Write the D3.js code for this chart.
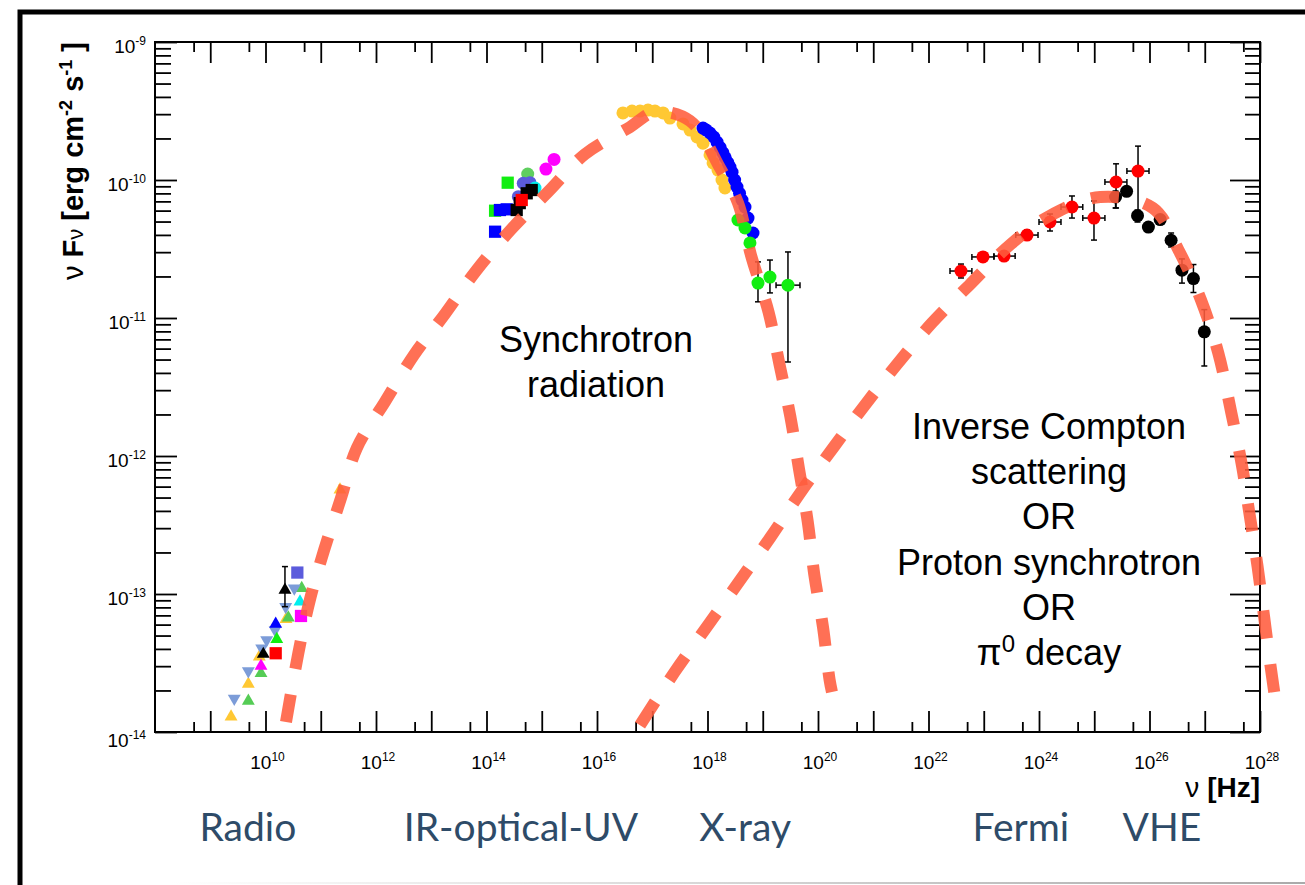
<!DOCTYPE html>
<html>
<head>
<meta charset="utf-8">
<script src="https://cdn.jsdelivr.net/npm/d3@7"></script>
<style>
  body{margin:0;background:#fff;}
  svg{display:block;}
</style>
</head>
<body>
<div id="chart-area"></div>
<script>
// ---------- DATA (nu in Hz, nuFnu in erg cm^-2 s^-1) ----------
let xLabelExps=[10,12,14,16,18,20,22,24,26,28];
let yLabelExps=[-14,-13,-12,-11,-10,-9];

let synchrotronModel=[[2.35e10,1.18e-14],[3.93e10,3.73e-14],[6.38e10,9.12e-14],[1.15e11,2.08e-13],
  [2.33e11,4.97e-13],[4.48e11,1.14e-12],[1.46e12,2.48e-12],[4.88e12,5.40e-12],[1.77e13,1.07e-11],
  [6.65e13,2.23e-11],[2.86e14,4.43e-11],[1.32e15,8.26e-11],[6.07e15,1.54e-10],[3.95e16,2.42e-10],
  [1.12e17,3.11e-10],[4.82e17,2.68e-10],[1.71e18,1.21e-10],[3.55e18,6.85e-11],[6.12e18,2.86e-11],
  [1.27e19,1.11e-11],[2.0e19,4.65e-12],[3.16e19,1.93e-12],[4.53e19,8.05e-13],[6.53e19,3.33e-13],
  [8.57e19,1.38e-13],[1.23e20,5.77e-14],[1.62e20,2.39e-14],[1.79e20,1.95e-14]];

let comptonModel=[[6.0e16,1.12e-14],[2.54e17,2.72e-14],[1.09e18,6.17e-14],[1.39e19,2.59e-13],
  [4.92e19,5.50e-13],[1.95e20,1.17e-12],[6.95e20,2.32e-12],[2.72e21,4.64e-12],[1.16e22,9.23e-12],
  [5.47e22,1.73e-11],[3.11e23,3.44e-11],[1.58e24,5.51e-11],[1.29e25,7.53e-11],[1.15e26,6.27e-11],
  [3.42e26,3.06e-11],[8.55e26,1.35e-11],[1.76e27,5.57e-12],[3.03e27,2.05e-12],[4.72e27,8.51e-13],
  [6.32e27,4.02e-13],[9.06e27,1.57e-13],[1.18e28,6.95e-14],[1.57e28,2.91e-14],[2.08e28,1.33e-14]];

// radio
let radioGoldUp=[[2.38e9,1.29e-14],[4.89e9,2.23e-14],[7.72e9,3.51e-14],[2.35e10,6.56e-14],[2.23e11,5.7e-13]];
let radioSteelDown=[[2.72e9,1.75e-14],[4.89e9,2.77e-14],[8.53e9,4.04e-14],[1.05e10,4.64e-14],
  [1.49e10,5.48e-14],[2.32e10,8.09e-14],[3.32e10,1.10e-13]];
let radioGreenUp=[[4.89e9,1.68e-14],[8.29e9,2.66e-14],[2.59e10,6.73e-14],[4.52e10,1.10e-13]];
let radioLimeUp=[[1.60e10,4.70e-14]];
let radioMagentaUp=[[8.29e9,3.01e-14]];
let radioBlackUp=[[9.12e9,3.67e-14],[2.25e10,1.07e-13]];
let radioBlackErr=[[2.25e10,8.09e-14,1.58e-13]];
let radioBlueUp=[[1.53e10,6.07e-14]];
let radioCyanUp=[[4.21e10,8.79e-14]];
let radioRedSq=[[1.53e10,3.72e-14]];
let radioSlateSq=[[3.77e10,1.43e-13]];
let radioMagentaSq=[[4.39e10,6.93e-14]];

// IR-optical-UV
let irGreenSq=[[2.42e14,9.56e-11],[1.43e14,5.99e-11]];
let irBlueSq=[[1.43e14,4.22e-11],[1.75e14,6.06e-11],[2.32e14,6.13e-11]];
let irGreenDot=[[5.57e14,1.105e-10]];
let irSlateDot=[[3.77e14,7.57e-11],[4.63e14,9.47e-11],[6.12e14,9.56e-11]];
let irCyanDot=[[7.55e14,8.75e-11]];
let irBlackSq=[[3.52e14,6.06e-11],[4.0e14,6.8e-11],[5.34e14,8.01e-11],[6.58e14,8.46e-11]];
let irRedSq=[[4.34e14,7.16e-11]];
let irMagentaDot=[[1.19e15,1.20e-10],[1.67e15,1.41e-10]];

// X-ray
let xrayGold=[[2.95e16,3.06e-10],[4.30e16,3.16e-10],[6.0e16,3.16e-10],[8.37e16,3.21e-10],[1.12e17,3.16e-10],
  [1.57e17,3.06e-10],[2.09e17,2.81e-10],[3.60e17,2.55e-10],[4.82e17,2.30e-10],[6.45e17,2.05e-10],
  [8.29e17,1.85e-10],[1.11e18,1.52e-10],[1.26e18,1.33e-10],[1.55e18,1.18e-10],[1.83e18,1.0e-10],[2.07e18,8.75e-11]];
let xrayBlue=[[8.29e17,2.38e-10],[9.5e17,2.3e-10],[1.11e18,2.19e-10],[1.3e18,2.05e-10],[1.49e18,1.88e-10],
  [1.7e18,1.72e-10],[1.91e18,1.57e-10],[2.1e18,1.45e-10],[2.35e18,1.33e-10],[2.55e18,1.24e-10],
  [2.78e18,1.14e-10],[3.1e18,1.0e-10],[3.42e18,8.90e-11],[3.8e18,8.0e-11],[4.21e18,7.16e-11],
  [4.77e18,6.37e-11],[5.41e18,5.30e-11],[6.66e18,4.13e-11]];
let xrayGreen=[[3.56e18,5.13e-11],[4.77e18,4.49e-11],[5.87e18,3.50e-11]];
// nu, F, nuLo, nuHi, FLo, FHi
let xrayGreenErr=[[8.2e18,1.79e-11,7.4e18,9.1e18,1.31e-11,2.55e-11],
  [1.35e19,1.98e-11,1.2e19,1.5e19,1.52e-11,2.63e-11],
  [2.86e19,1.73e-11,1.74e19,4.72e19,4.80e-12,3.01e-11]];

// Fermi: nu, F, nuLo, nuHi, FLo, FHi
let fermiPoints=[[3.87e22,2.19e-11,2.45e22,6.1e22,1.95e-11,2.46e-11],
  [9.69e22,2.77e-11,6.1e22,1.53e23,2.59e-11,2.96e-11],
  [2.33e23,2.81e-11,1.53e23,3.7e23,2.63e-11,3.01e-11],
  [6.06e23,3.99e-11,3.8e23,9.6e23,3.67e-11,4.34e-11],
  [1.58e24,4.96e-11,1.0e24,2.5e24,4.27e-11,5.67e-11],
  [3.95e24,6.37e-11,2.5e24,6.2e24,5.30e-11,7.66e-11],
  [9.89e24,5.30e-11,6.2e24,1.56e25,3.67e-11,7.05e-11],
  [2.48e25,9.67e-11,1.56e25,3.9e25,6.27e-11,1.31e-10],
  [6.2e25,1.16e-10,3.9e25,9.8e25,5.39e-11,1.76e-10]];

// VHE: nu, F, FLo, FHi
let vhePoints=[[2.43e25,7.53e-11,6.27e-11,8.32e-11],[3.85e25,8.28e-11,null,null],
  [6.07e25,5.51e-11,4.96e-11,6.06e-11],[9.55e25,4.56e-11,null,null],[1.56e26,5.17e-11,null,null],
  [2.46e26,3.66e-11,3.27e-11,4.13e-11],[3.87e26,2.22e-11,1.79e-11,2.68e-11],
  [6.24e26,1.93e-11,1.53e-11,2.44e-11],[9.82e26,7.94e-12,4.49e-12,1.15e-11]];

let bandLabels=["Radio","IR-optical-UV","X-ray","Fermi","VHE"];
let bandCentersHz=[4.8e9,4.2e14,4.8e18,4.7e23,1.68e26];
let comptonText=["Inverse Compton","scattering","OR","Proton synchrotron","OR"];

// ---------- SETUP ----------
let width=1305, height=885;
let plot={left:155,right:1260,top:42,bottom:732};
let FONT="'Liberation Sans', Arial, Helvetica, sans-serif";

let svg=d3.select("#chart-area").append("svg")
  .attr("width",width).attr("height",height)
  .style("font-family",FONT);

svg.append("rect").attr("width",width).attr("height",height).attr("fill","#fff");

//---------SCALES--------------
let x=d3.scaleLog().domain([1e8,1e28]).range([plot.left,plot.right]);
let y=d3.scaleLog().domain([1e-14,1e-9]).range([plot.bottom,plot.top]);

let majorX=d3.range(9,29).map(e=>Math.pow(10,e));
let minorX=d3.range(8,28).map(e=>5*Math.pow(10,e));
let majorY=d3.range(-14,-8).map(e=>Math.pow(10,e));
let minorY=[];
d3.range(-14,-9).forEach(e=>{ for(let k=2;k<=9;k++) minorY.push(k*Math.pow(10,e)); });

//---------OUTER FRAME---------
let grad=svg.append("defs").append("linearGradient").attr("id","fade");
grad.append("stop").attr("offset","0%").attr("stop-color","#fff");
grad.append("stop").attr("offset","100%").attr("stop-color","#aaa");
svg.append("rect").attr("x",170).attr("y",882).attr("width",1135).attr("height",2).attr("fill","url(#fade)");
svg.append("path").attr("d","M20,885 L20,12 L1305,12")
  .attr("fill","none").attr("stroke","#000").attr("stroke-width",5);

//-------AXES------------------
function tickGroup(axis,tr){
  let gr=svg.append("g").attr("transform",tr).call(axis);
  gr.select(".domain").remove();
  gr.selectAll("line").attr("stroke","#000").attr("stroke-width",1.8);
  gr.selectAll("text").remove();
  return gr;
}
let bY="translate(0,"+plot.bottom+")", tY="translate(0,"+plot.top+")";
let lX="translate("+plot.left+",0)", rX="translate("+plot.right+",0)";
tickGroup(d3.axisBottom(x).tickValues(majorX).tickSize(-21).tickSizeOuter(0),bY);
tickGroup(d3.axisBottom(x).tickValues(minorX).tickSize(-10).tickSizeOuter(0),bY);
tickGroup(d3.axisTop(x).tickValues(majorX).tickSize(-21).tickSizeOuter(0),tY);
tickGroup(d3.axisTop(x).tickValues(minorX).tickSize(-10).tickSizeOuter(0),tY);
tickGroup(d3.axisLeft(y).tickValues(majorY).tickSize(-22).tickSizeOuter(0),lX);
tickGroup(d3.axisLeft(y).tickValues(minorY).tickSize(-16).tickSizeOuter(0),lX);
tickGroup(d3.axisRight(y).tickValues(majorY).tickSize(-30).tickSizeOuter(0),rX);
tickGroup(d3.axisRight(y).tickValues(minorY).tickSize(-15).tickSizeOuter(0),rX);

svg.append("rect")
  .attr("x",plot.left).attr("y",plot.top)
  .attr("width",plot.right-plot.left).attr("height",plot.bottom-plot.top)
  .attr("fill","none").attr("stroke","#000").attr("stroke-width",2);

function powerLabel(t,exp){
  t.append("tspan").text("10");
  t.append("tspan").attr("dy",-8).attr("font-size",12).text(exp);
}
xLabelExps.forEach(function(e){
  let t=svg.append("text")
    .attr("x",x(Math.pow(10,e))+2).attr("y",769)
    .attr("text-anchor","middle").attr("font-size",19);
  powerLabel(t,e);
});
yLabelExps.forEach(function(e){
  let off=(e===-14)?15:11;
  let t=svg.append("text")
    .attr("x",plot.left-9).attr("y",y(Math.pow(10,e))+off)
    .attr("text-anchor","end").attr("font-size",19);
  powerLabel(t,e);
});

//------LABELS----------------
let yTitle=svg.append("text")
  .attr("transform","translate(83,"+plot.top+") rotate(-90)")
  .attr("text-anchor","end").attr("font-size",29).attr("font-weight","bold");
yTitle.append("tspan").attr("font-weight","normal").text("ν ");
yTitle.append("tspan").text("F");
yTitle.append("tspan").attr("font-weight","normal").attr("font-size",22).text("ν");
yTitle.append("tspan").text(" [erg cm");
yTitle.append("tspan").attr("font-size",18).attr("dy",-11).text("-2");
yTitle.append("tspan").attr("dy",11).text(" s");
yTitle.append("tspan").attr("font-size",18).attr("dy",-11).text("-1");
yTitle.append("tspan").attr("dy",11).text(" ]");

let xTitle=svg.append("text")
  .attr("x",plot.right).attr("y",797)
  .attr("text-anchor","end").attr("font-size",28).attr("font-weight","bold");
xTitle.append("tspan").attr("font-weight","normal").text("ν ");
xTitle.append("tspan").text("[Hz]");

//--------POINTS----------------
let triUp=d3.symbol().type(d3.symbolTriangle).size(72)();
let square=d3.symbol().type(d3.symbolSquare).size(150)();

function markers(data,shape,color){
  let sel=svg.append("g").selectAll("path").data(data).enter();
  if(shape==="circle"){
    sel.append("circle")
      .attr("cx",d=>x(d[0])).attr("cy",d=>y(d[1])).attr("r",6.5)
      .attr("fill",color);
  } else {
    sel.append("path")
      .attr("d",shape==="square"?square:triUp)
      .attr("transform",d=>"translate("+x(d[0])+","+y(d[1])+")"+(shape==="down"?" rotate(180)":""))
      .attr("fill",color);
  }
}

function errorBars(data,get){
  let g=svg.append("g").attr("stroke","#000").attr("stroke-width",1.5);
  data.forEach(function(d){
    let e=get(d), cx=x(e.nu), cy=y(e.f);
    if(e.fLo!=null){
      g.append("line").attr("x1",cx).attr("x2",cx).attr("y1",y(e.fLo)).attr("y2",y(e.fHi));
      [e.fLo,e.fHi].forEach(v=>g.append("line").attr("x1",cx-3).attr("x2",cx+3).attr("y1",y(v)).attr("y2",y(v)));
    }
    if(e.nuLo!=null){
      g.append("line").attr("x1",x(e.nuLo)).attr("x2",x(e.nuHi)).attr("y1",cy).attr("y2",cy);
      [e.nuLo,e.nuHi].forEach(v=>g.append("line").attr("x1",x(v)).attr("x2",x(v)).attr("y1",cy-3).attr("y2",cy+3));
    }
  });
}

// radio
markers(radioGoldUp,"up","#ffc833");
markers(radioGreenUp,"up","#55cc55");
markers(radioSteelDown,"down","#7c9cd8");
markers(radioLimeUp,"up","#11ee11");
markers(radioMagentaUp,"up","#ff00ff");
errorBars(radioBlackErr,d=>({nu:d[0],f:d[0],fLo:d[1],fHi:d[2]}));
markers(radioBlackUp,"up","#000");
markers(radioBlueUp,"up","#0000ff");
markers(radioCyanUp,"up","#00eeee");
markers(radioRedSq,"square","#ff0000");
markers(radioSlateSq,"square","#5b5bdc");
markers(radioMagentaSq,"square","#ff00ff");

// IR-optical-UV
markers(irGreenSq,"square","#11ee11");
markers(irBlueSq,"square","#0000ff");
markers(irGreenDot,"circle","#5fcf5f");
markers(irSlateDot,"circle","#5b5bdc");
markers(irCyanDot,"circle","#00eeee");
markers(irBlackSq,"square","#000");
markers(irRedSq,"square","#ff0000");
markers(irMagentaDot,"circle","#ff00ff");

// X-ray
markers(xrayGold,"circle","#ffc833");
markers(xrayBlue,"circle","#0000ff");
markers(xrayGreen,"circle","#11ee11");
errorBars(xrayGreenErr,d=>({nu:d[0],f:d[1],nuLo:d[2],nuHi:d[3],fLo:d[4],fHi:d[5]}));
markers(xrayGreenErr,"circle","#11ee11");

// gamma rays
errorBars(fermiPoints,d=>({nu:d[0],f:d[1],nuLo:d[2],nuHi:d[3],fLo:d[4],fHi:d[5]}));
markers(fermiPoints,"circle","#ff0000");
errorBars(vhePoints,d=>({nu:d[0],f:d[1],fLo:d[2],fHi:d[3]}));
markers(vhePoints,"circle","#000");

//--------MODEL CURVES----------
let line=d3.line().x(d=>x(d[0])).y(d=>y(d[1])).curve(d3.curveCatmullRom.alpha(0.5));
[synchrotronModel,comptonModel].forEach(function(m){
  svg.append("path").datum(m).attr("d",line)
    .attr("fill","none").attr("stroke","rgb(255,92,62)").attr("stroke-opacity",0.88)
    .attr("stroke-width",12).attr("stroke-dasharray","28,26");
});

//--------ANNOTATIONS----------
let synText=svg.append("text").attr("text-anchor","middle").attr("font-size",36);
synText.append("tspan").attr("x",596).attr("y",352).text("Synchrotron");
synText.append("tspan").attr("x",596).attr("y",397).text("radiation");

let icText=svg.append("text").attr("text-anchor","middle").attr("font-size",36);
comptonText.forEach(function(s,i){
  icText.append("tspan").attr("x",1049).attr("y",439+i*45.2).text(s);
});
let piLine=svg.append("text").attr("text-anchor","middle").attr("font-size",36)
  .attr("x",1049).attr("y",665);
piLine.append("tspan").text("π");
piLine.append("tspan").attr("dy",-13).attr("font-size",24).text("0");
piLine.append("tspan").attr("dy",13).text(" decay");

//--------BAND LABELS----------
bandLabels.forEach(function(s,i){
  svg.append("text")
    .attr("x",x(bandCentersHz[i])).attr("y",841)
    .attr("text-anchor","middle")
    .attr("font-family","Lato, 'Open Sans', sans-serif")
    .attr("font-size",39).attr("fill","#2e4b68")
    .text(s);
});
</script>
</body>
</html>
